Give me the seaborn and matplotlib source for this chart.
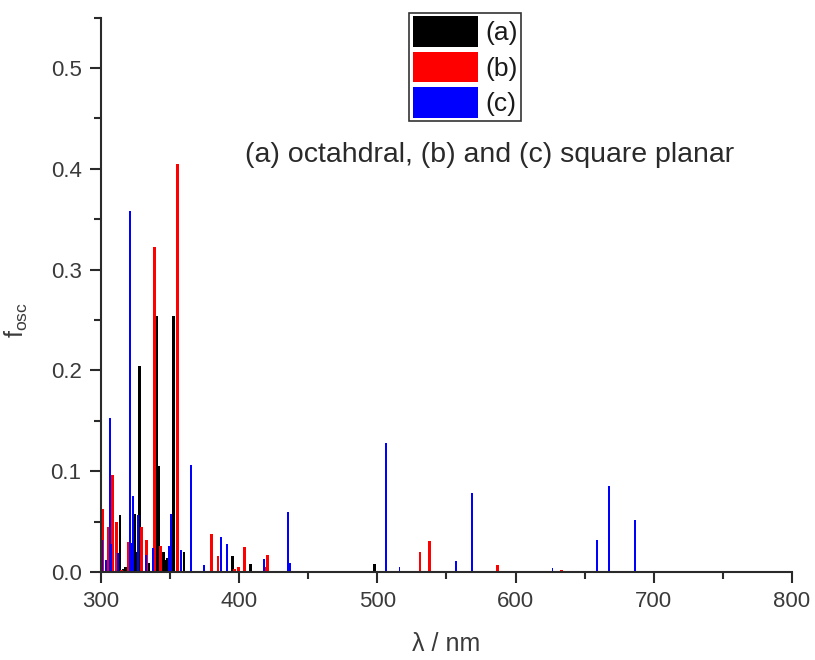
import numpy as np
import pandas as pd
import matplotlib
matplotlib.use("Agg")
import matplotlib.pyplot as plt
from matplotlib.patches import Patch
from matplotlib.ticker import MultipleLocator, FormatStrFormatter
import seaborn as sns

# Calculated transitions: wavelength (nm) and oscillator strength
wl_a = [313.7, 316.0, 317.5, 324.5, 325.8, 327.9, 334.6, 340.2, 341.6, 345.0,
        346.6, 348.0, 352.2, 360.0, 394.9, 408.0, 421.5, 438.0, 497.7]
f_a = [0.057, 0.003, 0.005, 0.058, 0.020, 0.204, 0.009, 0.254, 0.105, 0.020,
       0.012, 0.014, 0.254, 0.020, 0.016, 0.008, 0.0013, 0.001, 0.008]

wl_b = [301.0, 305.3, 308.1, 311.1, 315.0, 319.8, 329.2, 332.9, 338.6, 343.3,
        355.5, 379.7, 384.7, 396.7, 399.6, 404.0, 419.4, 420.6, 530.8, 537.7,
        554.0, 587.0, 633.2]
f_b = [0.063, 0.045, 0.096, 0.050, 0.002, 0.030, 0.045, 0.032, 0.322, 0.0255,
       0.405, 0.038, 0.0155, 0.003, 0.005, 0.025, 0.005, 0.0165, 0.020, 0.031,
       0.001, 0.007, 0.002]

wl_c = [300.8, 303.6, 306.3, 307.4, 312.5, 321.0, 322.2, 323.4, 326.9, 332.4,
        337.7, 349.4, 350.6, 358.1, 365.0, 374.5, 386.8, 391.2, 417.7, 435.3,
        436.6, 456.0, 506.5, 508.8, 516.0, 557.0, 568.7, 626.7, 658.7, 667.8,
        686.2]
f_c = [0.032, 0.012, 0.153, 0.028, 0.019, 0.358, 0.029, 0.075, 0.057, 0.017,
       0.024, 0.0255, 0.058, 0.022, 0.1065, 0.007, 0.035, 0.028, 0.013, 0.060,
       0.0086, 0.0013, 0.1276, 0.0013, 0.0046, 0.011, 0.078, 0.0036, 0.0317,
       0.085, 0.052]

labels = ["(a)", "(b)", "(c)"]
colors = ["#000000", "#ff0000", "#0000ff"]
series = [(wl_a, f_a), (wl_b, f_b), (wl_c, f_c)]
stick_nm = [2.0, 2.0, 1.3]   # drawn stick widths in nm

sns.set_theme(style="ticks")
plt.rcParams["font.family"] = ["Liberation Sans", "DejaVu Sans"]
plt.rcParams["mathtext.fontset"] = "custom"
plt.rcParams["mathtext.rm"] = "Liberation Sans"
plt.rcParams["mathtext.it"] = "Liberation Sans"

ink = "#2a2a2a"
label_ink = "#3a3a3a"

fig = plt.figure(figsize=(8.15, 6.6), dpi=100)
ax = fig.add_axes([0.1239, 0.1333, 0.9718 - 0.1239, 0.9733 - 0.1333])

for (wl, f), col, w in zip(series, colors, stick_nm):
    d = pd.DataFrame({"nm": wl, "f": f})
    native = np.nanmin(np.diff(np.unique(d["nm"].to_numpy())))
    sns.barplot(data=d, x="nm", y="f", native_scale=True, errorbar=None,
                color=col, width=w / native, saturation=1, linewidth=0,
                edgecolor="none", ax=ax)

ax.set_xlim(300, 800)
ax.set_ylim(0, 0.55)
ax.xaxis.set_major_locator(MultipleLocator(100))
ax.xaxis.set_minor_locator(MultipleLocator(50))
ax.yaxis.set_major_locator(MultipleLocator(0.1))
ax.yaxis.set_minor_locator(MultipleLocator(0.05))
ax.yaxis.set_major_formatter(FormatStrFormatter("%.1f"))

for side in ("top", "right"):
    ax.spines[side].set_visible(False)
for side in ("left", "bottom"):
    ax.spines[side].set_linewidth(1.5)
    ax.spines[side].set_color(ink)

ax.tick_params(which="major", direction="out", length=8, width=1.5,
               color=ink, labelcolor=label_ink, labelsize=16, pad=6)
ax.tick_params(which="minor", direction="out", length=5, width=1.5, color=ink)

ax.set_xlabel("λ / nm", fontsize=18, color=label_ink, labelpad=14)
ax.set_ylabel(r"f$_{\mathregular{osc}}$", fontsize=18, color=label_ink)
ax.yaxis.set_label_coords(-0.103, 0.455)

handles = [Patch(facecolor=c, edgecolor="none") for c in colors]
leg = ax.legend(handles, labels, loc="upper center",
                bbox_to_anchor=(0.5706, 0.981), bbox_transform=fig.transFigure,
                fontsize=19, frameon=True, fancybox=False, shadow=False,
                handlelength=2.5, handleheight=1.42, labelspacing=0.17,
                borderpad=0.14, handletextpad=0.25, borderaxespad=0)
leg.get_frame().set_edgecolor("#000000")
leg.get_frame().set_linewidth(1.2)
for t in leg.get_texts():
    t.set_color("#1a1a1a")

fig.text(245 / 815, 1 - 155 / 660, "(a) octahdral, (b) and (c) square planar",
         fontsize=20.5, color="#2a2a2a", ha="left", va="center")

fig.savefig("out.png", dpi=100)
